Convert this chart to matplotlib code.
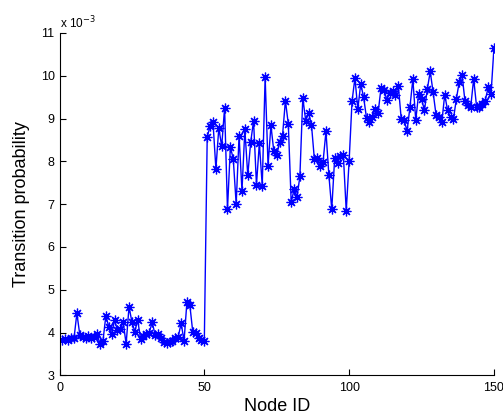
import matplotlib
matplotlib.use("Agg")
import matplotlib.pyplot as plt
import numpy as np

plt.rcParams['font.family'] = ['Liberation Sans', 'DejaVu Sans']

# Transition probability per node (in units of 1e-3)
low_group = [3.83, 3.85, 3.82, 3.88, 3.86, 4.45, 3.95, 3.90, 3.86, 3.93,
             3.87, 3.90, 3.96, 3.72, 3.80, 4.39, 4.14, 3.96, 4.29, 4.06,
             4.09, 4.24, 3.73, 4.60, 4.25, 4.02, 4.29, 3.85, 3.92, 3.97,
             4.00, 4.24, 3.95, 3.96, 3.88, 3.78, 3.76, 3.78, 3.80, 3.88,
             3.90, 4.22, 3.80, 4.72, 4.64, 4.02, 3.98, 3.87, 3.83, 3.80]
mid_group = [8.57, 8.82, 8.91, 7.82, 8.78, 8.35, 9.25, 6.88, 8.34, 8.05,
             7.00, 8.60, 7.31, 8.75, 7.67, 8.44, 8.95, 7.45, 8.42, 7.43,
             9.97, 7.90, 8.84, 8.23, 8.15, 8.44, 8.60, 9.42, 8.87, 7.04,
             7.35, 7.16, 7.65, 9.49, 8.95, 9.13, 8.85, 8.05, 8.07, 7.88,
             7.99, 8.70, 7.68, 6.88, 8.07, 7.97, 8.12, 8.15, 6.84, 8.01]
high_group = [9.40, 9.95, 9.22, 9.81, 9.50, 9.01, 8.93, 9.04, 9.22, 9.13,
              9.71, 9.67, 9.44, 9.60, 9.64, 9.56, 9.75, 8.98, 8.97, 8.70,
              9.27, 9.92, 8.96, 9.58, 9.46, 9.19, 9.69, 10.10, 9.61, 9.09,
              9.03, 8.91, 9.56, 9.19, 9.03, 8.98, 9.45, 9.85, 10.02, 9.40,
              9.32, 9.28, 9.93, 9.28, 9.27, 9.35, 9.42, 9.73, 9.58, 10.65]
values = low_group + mid_group + high_group
node_ids = list(range(1, len(values) + 1))

x_ticks = [0, 50, 100, 150]
y_ticks = [3, 4, 5, 6, 7, 8, 9, 10, 11]

fig = plt.figure(figsize=(5.03, 4.17), dpi=100)
ax = fig.add_axes([0.1183, 0.100, 0.8637, 0.821])

ax.plot(node_ids, values, color='#0000ff', linewidth=1.0, marker=(8, 2, 0),
        markersize=7, markeredgewidth=0.9, markerfacecolor='#0000ff',
        markeredgecolor='#0000ff')

ax.set_xlim(0, 150)
ax.set_ylim(3, 11)
ax.set_xticks(x_ticks)
ax.set_yticks(y_ticks)
ax.tick_params(direction='in', length=4, labelsize=9, width=0.8)
ax.tick_params(axis='x', pad=5)
for s in ['top', 'right']:
    ax.spines[s].set_visible(False)
for s in ['left', 'bottom']:
    ax.spines[s].set_linewidth(0.8)

ax.set_xlabel('Node ID', fontsize=13, labelpad=3)
ax.set_ylabel('Transition probability', fontsize=13, labelpad=8)

fig.text(0.120, 0.925, r'x 10$^{-3}$', fontsize=8.5, ha='left', va='bottom')

fig.savefig('out.png', dpi=100)
